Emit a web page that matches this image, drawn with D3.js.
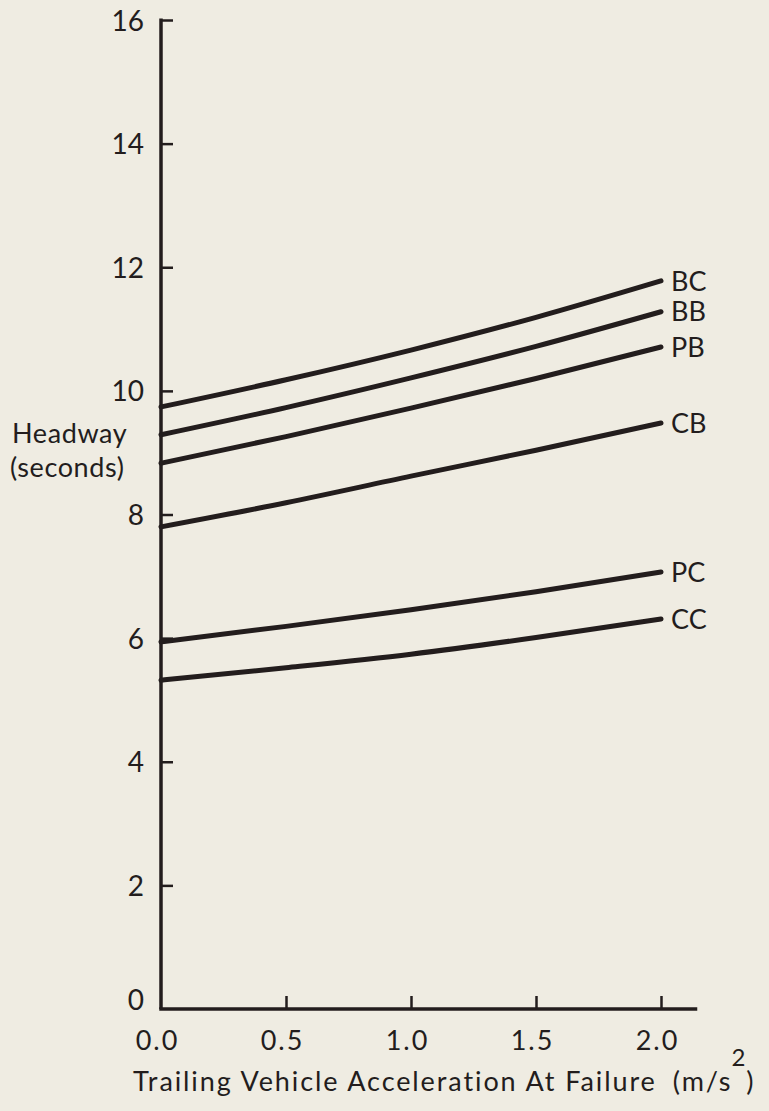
<!DOCTYPE html>
<html>
<head>
<meta charset="utf-8">
<script src="https://cdn.jsdelivr.net/npm/d3@7"></script>
<style>
  html, body { margin: 0; padding: 0; background: #efece2; }
  svg { display: block; }
  text { font-family: "Lato", "Noto Sans", sans-serif; fill: #231d1d; }
</style>
</head>
<body>
<svg id="chart" width="769" height="1111"></svg>
<script>
// Acceleration at failure (m/s^2)
const accel = [0.0, 0.5, 1.0, 1.5, 2.0];

// Headway (s) for each vehicle-pair case
const seriesNames = ["BC", "BB", "PB", "CB", "PC", "CC"];
const headwayBC = [9.74, 10.18, 10.66, 11.19, 11.78];
const headwayBB = [9.29, 9.73, 10.21, 10.72, 11.28];
const headwayPB = [8.83, 9.26, 9.72, 10.20, 10.71];
const headwayCB = [7.80, 8.19, 8.62, 9.04, 9.48];
const headwayPC = [5.94, 6.19, 6.46, 6.75, 7.07];
const headwayCC = [5.32, 5.52, 5.74, 6.01, 6.31];

const xTicks = [0.0, 0.5, 1.0, 1.5, 2.0];
const yTicks = [0, 2, 4, 6, 8, 10, 12, 14, 16];

const series = [
  { name: "BC", values: headwayBC },
  { name: "BB", values: headwayBB },
  { name: "PB", values: headwayPB },
  { name: "CB", values: headwayCB },
  { name: "PC", values: headwayPC },
  { name: "CC", values: headwayCC }
];

const ink = "#231d1d";
const svg = d3.select("#chart");

const x = d3.scaleLinear().domain([0, 2]).range([161, 661]);
const y = d3.scaleLinear().domain([0, 16]).range([1009, 20]);

// Axis lines (x axis runs a little past the last tick)
svg.append("line")
  .attr("x1", x(0)).attr("x2", x(0))
  .attr("y1", y(16) - 1.5).attr("y2", y(0))
  .attr("stroke", ink).attr("stroke-width", 3.5);
svg.append("line")
  .attr("x1", x(0) - 1.75).attr("x2", x(2.145))
  .attr("y1", y(0)).attr("y2", y(0))
  .attr("stroke", ink).attr("stroke-width", 3.5);

// Y axis: ticks point inward, labels on the left
const yAxis = svg.append("g")
  .attr("transform", `translate(${x(0)},0)`)
  .call(d3.axisLeft(y).tickValues(yTicks).tickSize(-12).tickPadding(17)
    .tickFormat(d3.format("d")));
yAxis.select(".domain").remove();
yAxis.selectAll(".tick line").attr("stroke", ink).attr("stroke-width", 2.5);
yAxis.selectAll(".tick text")
  .attr("font-size", 28)
  .attr("fill", ink)
  .attr("dy", d => d === 0 ? "0.02em" : "0.36em");
yAxis.selectAll(".tick").filter(d => d === 0).select("line").remove();

// X axis: ticks point up, labels below
const xAxis = svg.append("g")
  .attr("transform", `translate(0,${y(0)})`)
  .call(d3.axisBottom(x).tickValues(xTicks).tickSize(-13).tickPadding(22)
    .tickFormat(d3.format(".1f")));
xAxis.select(".domain").remove();
xAxis.selectAll(".tick line").attr("stroke", ink).attr("stroke-width", 2.5);
xAxis.selectAll(".tick").filter(d => d === 0).select("line").remove();
xAxis.selectAll(".tick text")
  .attr("font-size", 27)
  .attr("fill", ink)
  .attr("letter-spacing", "2px")
  .attr("dx", "-4");

// Curves
const line = d3.line()
  .x((d, i) => x(accel[i]))
  .y(d => y(d))
  .curve(d3.curveMonotoneX);

svg.append("g").selectAll("path")
  .data(series)
  .join("path")
  .attr("d", d => line(d.values))
  .attr("fill", "none")
  .attr("stroke", ink)
  .attr("stroke-width", 5)
  .attr("stroke-linecap", "round");

// Curve labels at the right end
svg.append("g").selectAll("text")
  .data(series)
  .join("text")
  .attr("x", d => x(2) + 10)
  .attr("y", d => y(d.values[d.values.length - 1]))
  .attr("dy", "0.36em")
  .attr("font-size", 27)
  .text(d => d.name);

// Y axis title
const yTitle = svg.append("text").attr("font-size", 27).attr("letter-spacing", "0.6px");
yTitle.append("tspan").attr("x", 12).attr("y", 443).text("Headway");
yTitle.append("tspan").attr("x", 10).attr("y", 477).text("(seconds)");

// X axis title with superscript unit
const xTitle = svg.append("text")
  .attr("x", 133).attr("y", 1091)
  .attr("font-size", 27)
  .attr("letter-spacing", "1.9px");
xTitle.append("tspan").text("Trailing Vehicle Acceleration At Failure");
xTitle.append("tspan").attr("dx", 16).text("(m/s");
xTitle.append("tspan").attr("dy", -25).attr("dx", -1).attr("font-size", 24)
  .attr("letter-spacing", "0px").text("2");
xTitle.append("tspan").attr("dy", 25).attr("dx", 1).text(")");
</script>
</body>
</html>
